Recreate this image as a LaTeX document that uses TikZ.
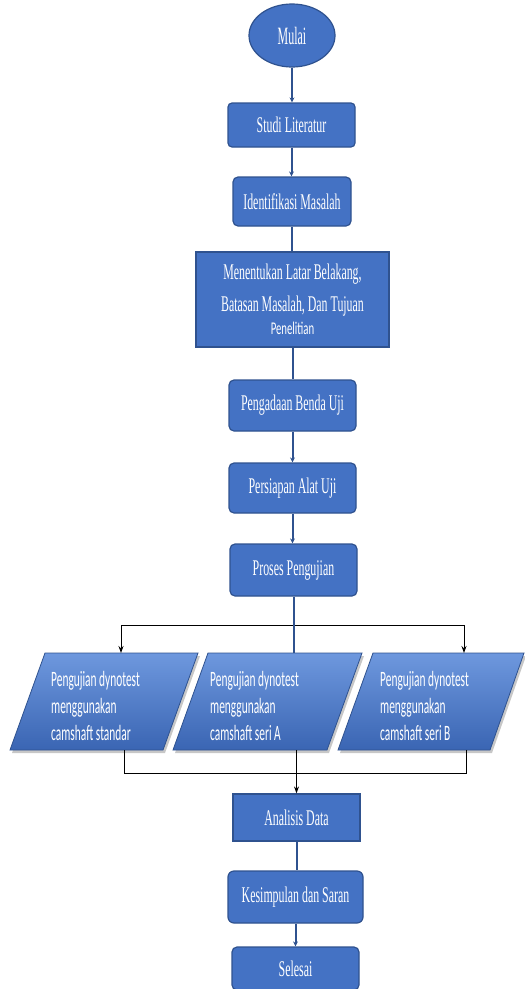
\documentclass[tikz,border=0pt]{standalone}
\usepackage{fontspec}
\usetikzlibrary{shapes.geometric,arrows.meta}
\newfontfamily\cserif[FakeStretch=0.53]{Liberation Serif}
\newfontfamily\cserifm[FakeStretch=0.48]{Liberation Serif}
\newfontfamily\csans[FakeStretch=0.52]{Carlito}
\newfontfamily\csansb[FakeStretch=0.6]{Carlito}
\definecolor{boxfill}{HTML}{4472C4}
\definecolor{boxline}{HTML}{2F528F}
\definecolor{paratop}{HTML}{6E98DE}
\definecolor{parabot}{HTML}{3A65B3}
\tikzset{
  box/.style={draw=boxline, line width=1.2bp, fill=boxfill, text=white, inner sep=0pt,
    font=\cserif\fontsize{22.5}{26}\selectfont},
  flowline/.style={draw=boxline, line width=2bp},
  flowarrow/.style={flowline, -{Stealth[length=5bp,width=5bp]}},
  branch/.style={draw=black, line width=1bp},
  barrow/.style={branch, -{Stealth[length=7bp,width=5bp]}},
  ptext/.style={align=left, text=white, inner sep=0pt, font=\csans\fontsize{22}{27}\selectfont},
  parashape/.style={top color=paratop, bottom color=parabot, draw=boxline, line width=0.8bp},
  parashadow/.style={fill=black!40, opacity=0.55}
}
\begin{document}
\begin{tikzpicture}[x=1bp,y=-1bp]
\useasboundingbox (0,0) rectangle (525,989);

% main column
\node[box, ellipse, minimum width=86bp, minimum height=63bp, font=\cserifm\fontsize{25}{28}\selectfont] (mulai) at (292,35.5) {Mulai};
\node[box, rounded corners=4bp, minimum width=127bp, minimum height=44bp] (studi) at (291.5,125) {Studi Literatur};
\node[box, rounded corners=5bp, minimum width=118bp, minimum height=49bp] (ident) at (292,201.5) {Identifikasi Masalah};
\node[box, minimum width=193bp, minimum height=95bp, align=center,
      font=\cserif\fontsize{22.5}{32}\selectfont] (tentu) at (292.5,299.5)
  {Menentukan Latar Belakang,\\ Batasan Masalah, Dan Tujuan\\[-9bp]
   \csansb\fontsize{18}{32}\selectfont Penelitian};
\node[box, rounded corners=5bp, minimum width=127bp, minimum height=51bp] (adaan) at (292.5,405.5) {Pengadaan Benda Uji};
\node[box, rounded corners=5bp, minimum width=127bp, minimum height=50bp] (siap) at (292.5,488) {Persiapan Alat Uji};
\node[box, rounded corners=5bp, minimum width=127bp, minimum height=52bp] (proses) at (293.5,570) {Proses Pengujian};
\node[box, minimum width=127bp, minimum height=47bp] (analisis) at (296.5,817.5) {Analisis Data};
\node[box, rounded corners=6bp, minimum width=135bp, minimum height=52bp] (simpul) at (295.5,897) {Kesimpulan dan Saran};
\node[box, rounded corners=5bp, minimum width=127bp, minimum height=43bp] (selesai) at (295.5,968.5) {Selesai};

% parallelograms
\fill[parashadow] (47,656) -- (200,656) -- (165,753) -- (12,753) -- cycle;
\fill[parashadow] (210,656) -- (364,656) -- (329,753) -- (175,753) -- cycle;
\fill[parashadow] (375,656) -- (526,656) -- (492,753) -- (340,753) -- cycle;
\shadedraw[parashape] (45,653) -- (198,653) -- (163,750) -- (10,750) -- cycle;
\shadedraw[parashape] (208,653) -- (362,653) -- (327,750) -- (173,750) -- cycle;
\shadedraw[parashape] (373,653) -- (524,653) -- (490,750) -- (338,750) -- cycle;
\node[ptext, anchor=west] (p1) at (51,706) {Pengujian dynotest\\menggunakan\\camshaft standar};
\node[ptext, anchor=west] (p2) at (210,706) {Pengujian dynotest\\menggunakan\\camshaft seri A};
\node[ptext, anchor=west] (p3) at (380,706) {Pengujian dynotest\\menggunakan\\camshaft seri B};

\coordinate (p1t) at (121,653);
\coordinate (p2t) at (293.5,653);
\coordinate (p3t) at (464,653);
\coordinate (p1b) at (124,750);
\coordinate (p2b) at (296.5,750);
\coordinate (p3b) at (466,750);
\coordinate (bl) at (121,625);
\coordinate (br) at (464,625);
\coordinate (jl) at (124,773);
\coordinate (jr) at (466,773);

% connectors
\draw[flowarrow] (mulai) -- (mulai.south |- studi.north);
\draw[flowarrow] (studi) -- (studi.south |- ident.north);
\draw[flowline] (ident) -- (ident.south |- tentu.north);
\draw[flowline] (tentu) -- (tentu.south |- adaan.north);
\draw[flowarrow] (adaan) -- (adaan.south |- siap.north);
\draw[flowarrow] (siap) -- (siap.south |- proses.north);
\draw[branch] (bl) -- (br);
\draw[barrow] (bl) -- (p1t);
\draw[barrow] (br) -- (p3t);
\draw[flowline] (proses.south) -- (p2t);
\draw[branch] (p1b) -- (jl) -- (jr) -- (p3b);
\draw[barrow] (p2b) -- (analisis.north);
\draw[flowline] (analisis) -- (analisis.south |- simpul.north);
\draw[flowarrow] (simpul) -- (simpul.south |- selesai.north);
\end{tikzpicture}
\end{document}
